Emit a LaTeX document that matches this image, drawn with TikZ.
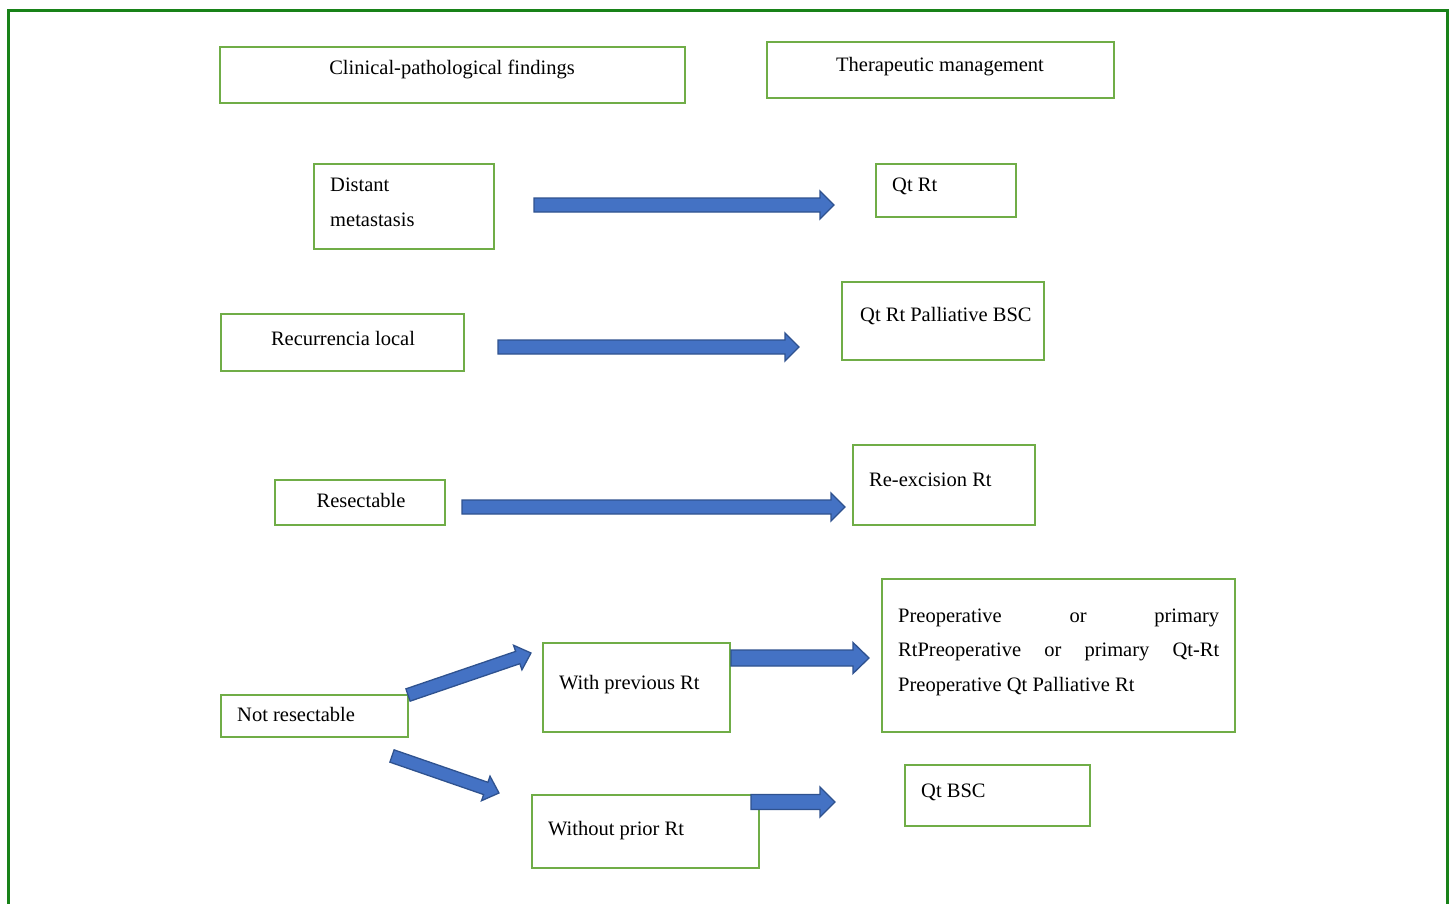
\documentclass[tikz,border=0pt]{standalone}
\usepackage{fontspec}
\setmainfont{Liberation Serif}
\usetikzlibrary{calc}
\definecolor{framegreen}{RGB}{24,130,24}
\definecolor{boxgreen}{RGB}{112,173,71}
\definecolor{arrowfill}{RGB}{68,114,196}
\definecolor{arrowline}{RGB}{47,82,143}
\tikzset{
  box/.style={draw=boxgreen, line width=2.4pt, anchor=north west, inner sep=0pt, outer sep=0pt},
  lbl/.style={anchor=base west, inner sep=0pt, font=\fontsize{20.5}{24}\selectfont},
  clbl/.style={anchor=base, inner sep=0pt, font=\fontsize{20.5}{24}\selectfont},
  blockarrow/.style={fill=arrowfill, draw=arrowline, line width=1.3pt, line join=miter},
}
\newcommand\barrow[5]{%
  \path let \p1=(#1), \p2=(#2), \n1={atan2(\y2-\y1,\x2-\x1)}, \n2={veclen(\x2-\x1,\y2-\y1)} in
    \pgfextra{\xdef\baang{\n1}\xdef\balen{\n2}};
  \draw[blockarrow, shift={(#1)}, rotate=\baang]
    (0pt,-#3) -- ({\balen-#5},-#3) -- ({\balen-#5},-#4) -- (\balen,0pt)
    -- ({\balen-#5},#4) -- ({\balen-#5},#3) -- (0pt,#3) -- cycle;
}
\newcommand\mkbox[5]{% name, x1, y1, x2, y2
  \node[box, minimum width={#4-#2}, minimum height={#5-#3}] (#1) at (#2,#3) {};
}
\begin{document}
\begin{tikzpicture}[x=1pt,y=-1pt]
\useasboundingbox (0,0) rectangle (1452,903);
\draw[framegreen, line width=3pt] (8,906) -- (8,10) -- (1447,10) -- (1447,906);

% boxes
\mkbox{clin}{220}{47}{685}{103}
\mkbox{ther}{767}{42}{1114}{98}
\mkbox{dist}{314}{164}{494}{249}
\mkbox{qtrt}{876}{164}{1016}{217}
\mkbox{recu}{221}{314}{464}{371}
\mkbox{qtpal}{842}{282}{1044}{360}
\mkbox{resec}{275}{480}{445}{525}
\mkbox{reex}{853}{445}{1035}{525}
\mkbox{notres}{221}{695}{408}{737}
\mkbox{withrt}{543}{643}{730}{732}
\mkbox{preop}{882}{579}{1235}{732}
\mkbox{without}{532}{795}{759}{868}
\mkbox{qtbsc}{905}{765}{1090}{826}

% labels
\node[clbl] (clint) at (452,74) {Clinical-pathological findings};
\node[clbl] (thert) at (940,71) {Therapeutic management};
\node[lbl] (distt1) at (330,191) {Distant};
\node[lbl] (distt2) at (330,226) {metastasis};
\node[lbl] (qtrtt) at (892,191) {Qt Rt};
\node[clbl] (recut) at (343,345) {Recurrencia local};
\node[lbl] (qtpalt) at (860,321) {Qt Rt Palliative BSC};
\node[clbl] (resect) at (361,507) {Resectable};
\node[lbl] (reext) at (869,486) {Re-excision Rt};
\node[lbl] (notrest) at (237,721) {Not resectable};
\node[lbl] (withrtt) at (559,689) {With previous Rt};
\node[lbl] (preop1) at (898,622) {\makebox[321pt][l]{Preoperative\hfill or\hfill primary}};
\node[lbl] (preop2) at (898,656) {\makebox[321pt][l]{RtPreoperative\hfill or\hfill primary\hfill Qt-Rt}};
\node[lbl] (preop3) at (898,691) {Preoperative Qt Palliative Rt};
\node[lbl] (withoutt) at (548,835) {Without prior Rt};
\node[lbl] (qtbsct) at (921,797) {Qt BSC};

% arrow end points
\coordinate (a1s) at (534,205); \coordinate (a1e) at (834,205);
\coordinate (a2s) at (498,347); \coordinate (a2e) at (799,347);
\coordinate (a3s) at (462,507); \coordinate (a3e) at (845,507);
\coordinate (a4s) at (731,658); \coordinate (a4e) at (869,658);
\coordinate (a5s) at (751,802); \coordinate (a5e) at (835,802);
\coordinate (a6s) at (408,695); \coordinate (a6e) at (531,653);
\coordinate (a7s) at (392,756); \coordinate (a7e) at (499,793);

\barrow{a1s}{a1e}{7pt}{14pt}{14pt}
\barrow{a2s}{a2e}{7pt}{14pt}{14pt}
\barrow{a3s}{a3e}{7pt}{14pt}{14pt}
\barrow{a4s}{a4e}{8pt}{15.5pt}{16pt}
\barrow{a5s}{a5e}{7.5pt}{15pt}{15pt}
\barrow{a6s}{a6e}{6.5pt}{13pt}{14pt}
\barrow{a7s}{a7e}{6.5pt}{13pt}{14pt}
\end{tikzpicture}
\end{document}
